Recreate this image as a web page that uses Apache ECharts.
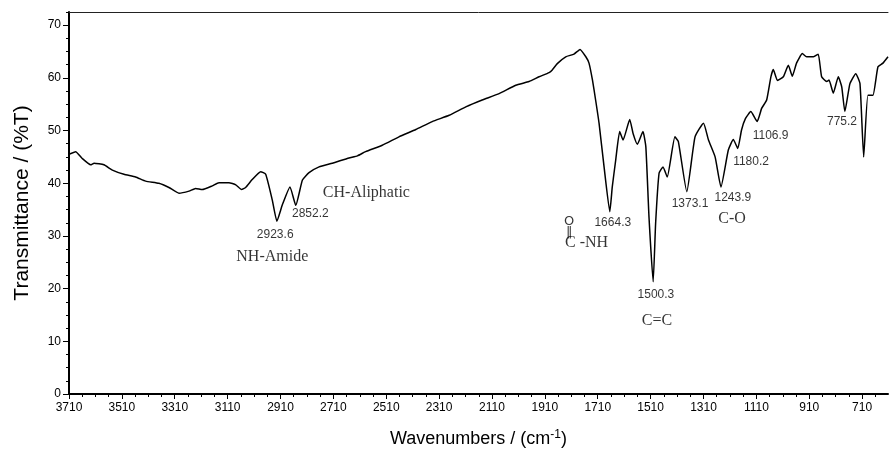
<!DOCTYPE html>
<html>
<head>
<meta charset="utf-8">
<script src="https://cdn.jsdelivr.net/npm/echarts@6/dist/echarts.min.js"></script>
<style>
  html, body { margin: 0; padding: 0; background: #fff; }
  #chart { width: 889px; height: 457px; }
</style>
</head>
<body>
<div id="chart"></div>
<script>
// FTIR spectrum
const wavenumbers = [
  3710, 3685, 3660, 3628, 3615, 3578, 3546, 3502, 3458, 3420,
  3370, 3332, 3294, 3256, 3231, 3206, 3168, 3143, 3105, 3079,
  3057, 3042, 3017, 2985, 2966, 2941, 2923.6, 2903, 2874, 2852.2,
  2827, 2802, 2764, 2714, 2651, 2619, 2588, 2525, 2462, 2398,
  2336, 2272, 2209, 2147, 2083, 2020, 1970, 1932, 1894, 1882,
  1863, 1831, 1800, 1777, 1755, 1743, 1730, 1718, 1705, 1686,
  1664.3, 1655, 1642, 1627, 1614, 1589, 1576, 1560, 1539, 1528,
  1516, 1500.3, 1491, 1478, 1463, 1447, 1418, 1405, 1373.1, 1342,
  1310, 1291, 1266, 1243.9, 1216, 1197, 1180.2, 1166, 1151, 1131,
  1106.9, 1090, 1071, 1055, 1046, 1030, 1008, 989, 974, 958,
  936, 920, 894, 876, 863, 844, 835, 819, 800, 787,
  775.2, 756, 734, 718, 704, 688, 669, 650, 631, 612
];
const transmittance = [
  45.5, 46.0, 44.7, 43.5, 43.8, 43.5, 42.5, 41.7, 41.2, 40.4,
  40.0, 39.2, 38.1, 38.5, 39.0, 38.8, 39.5, 40.1, 40.1, 39.7,
  38.8, 39.2, 40.7, 42.2, 41.7, 36.8, 32.8, 35.9, 39.3, 35.8,
  40.6, 42.0, 43.1, 43.8, 44.8, 45.2, 46.0, 47.2, 48.8, 50.2,
  51.7, 52.9, 54.5, 55.8, 57.0, 58.6, 59.3, 60.2, 61.0, 61.5,
  62.7, 64.0, 64.5, 65.4, 64.0, 62.8, 59.6, 55.8, 51.4, 43.1,
  34.6, 39.3, 44.4, 49.8, 48.2, 52.1, 49.4, 47.4, 49.8, 46.9,
  33.5, 21.3, 32.4, 41.9, 43.1, 41.2, 48.8, 47.9, 38.4, 48.8,
  51.4, 48.2, 45.0, 39.3, 46.3, 48.3, 46.6, 50.1, 52.3, 53.6,
  51.7, 54.2, 55.8, 60.2, 61.6, 59.5, 60.2, 62.4, 60.3, 62.8,
  64.6, 64.0, 64.0, 64.5, 60.2, 59.3, 59.6, 57.1, 60.2, 58.3,
  53.6, 58.9, 60.8, 58.9, 45.0, 56.7, 56.7, 62.1, 62.8, 64.0
];

const xTicks = [3710, 3510, 3310, 3110, 2910, 2710, 2510, 2310, 2110, 1910, 1710, 1510, 1310, 1110, 910, 710];
const yTicks = [0, 10, 20, 30, 40, 50, 60, 70];

// peak numbers [wavenumber, %T where the text sits, text]
const peakLabels = [
  [2930, 30.2, '2923.6'],
  [2797, 34.2, '2852.2'],
  [1653, 32.5, '1664.3'],
  [1490, 18.8, '1500.3'],
  [1361, 36.2, '1373.1'],
  [1199, 37.3, '1243.9'],
  [1130, 44.0, '1180.2'],
  [1056, 49.1, '1106.9'],
  [786, 51.7, '775.2']
];
// group names
const groupLabels = [
  [2941, 26.0, 'NH-Amide'],
  [2585, 38.2, 'CH-Aliphatic'],
  [1752, 28.7, 'C -NH'],
  [1486, 13.9, 'C=C'],
  [1202, 33.3, 'C-O']
];
const carbonylMarks = [
  [1818, 32.8, 'O'],
  [1818, 30.6, '‖']
];

let minorX = [];
for (let v = 660; v <= 3710; v += 50) minorX.push(v);
let minorY = [];
for (let v = 0; v <= 72.5; v += 2.5) minorY.push(v);

const chart = echarts.init(document.getElementById('chart'));
const sans = 'Liberation Sans';
const serif = 'Liberation Serif';

const option = {
  backgroundColor: '#fff',
  animation: false,
  grid: { left: 69, right: 1, top: 12, bottom: 63 },
  xAxis: [{
    type: 'value', inverse: true, min: 612, max: 3710, position: 'bottom',
    axisLine: { lineStyle: { color: '#000', width: 2 } },
    axisTick: { customValues: xTicks, length: 5, lineStyle: { color: '#000' } },
    axisLabel: {
      customValues: xTicks, color: '#000', fontSize: 12, fontFamily: sans, margin: 8,
      formatter: v => String(v)
    },
    splitLine: { show: false },
    name: 'Wavenumbers / (cm{sup|-1})',
    nameLocation: 'middle', nameGap: 35,
    nameTextStyle: {
      color: '#000', fontSize: 18, fontFamily: sans,
      rich: { sup: { fontSize: 12, fontFamily: sans, color: '#000', verticalAlign: 'top', padding: [0, 0, 8, 0] } }
    }
  }, {
    type: 'value', inverse: true, min: 612, max: 3710, position: 'bottom',
    axisLine: { show: false },
    axisTick: { customValues: minorX, length: 3, lineStyle: { color: '#000' } },
    axisLabel: { show: false },
    splitLine: { show: false }
  }, {
    type: 'value', inverse: true, min: 612, max: 3710, position: 'top',
    axisLine: { lineStyle: { color: '#222', width: 1 } },
    axisTick: { show: false },
    axisLabel: { show: false },
    splitLine: { show: false }
  }],
  yAxis: [{
    type: 'value', min: 0, max: 72.5,
    axisLine: { show: true, lineStyle: { color: '#000', width: 2 } },
    axisTick: { show: true, customValues: yTicks, length: 6, lineStyle: { color: '#000' } },
    axisLabel: {
      customValues: yTicks, color: '#000', fontSize: 12, fontFamily: sans, margin: 8,
      formatter: v => String(v)
    },
    splitLine: { show: false },
    name: 'Transmittance / (%T)',
    nameLocation: 'middle', nameGap: 36,
    nameTextStyle: { color: '#000', fontSize: 21, fontFamily: sans }
  }, {
    type: 'value', min: 0, max: 72.5, position: 'left',
    axisLine: { show: false },
    axisTick: { show: true, customValues: minorY, length: 3, lineStyle: { color: '#000' } },
    axisLabel: { show: false },
    splitLine: { show: false }
  }],
  series: [{
    type: 'line',
    data: wavenumbers.map((w, i) => [w, transmittance[i]]),
    showSymbol: false,
    smooth: 0.15,
    lineStyle: { color: '#000', width: 1.5 },
    silent: true
  }, {
    type: 'scatter', symbolSize: 0, silent: true,
    data: peakLabels,
    label: {
      show: true, position: 'inside', formatter: p => p.data[2],
      color: '#000', fontSize: 12, fontFamily: sans
    }
  }, {
    type: 'scatter', symbolSize: 0, silent: true,
    data: groupLabels,
    label: {
      show: true, position: 'inside', formatter: p => p.data[2],
      color: '#000', fontSize: 16, fontFamily: serif
    }
  }, {
    type: 'scatter', symbolSize: 0, silent: true,
    data: carbonylMarks,
    label: {
      show: true, position: 'inside', formatter: p => p.data[2],
      color: '#000', fontSize: 13, fontFamily: 'DejaVu Sans'
    }
  }]
};
chart.setOption(option);
</script>
</body>
</html>
